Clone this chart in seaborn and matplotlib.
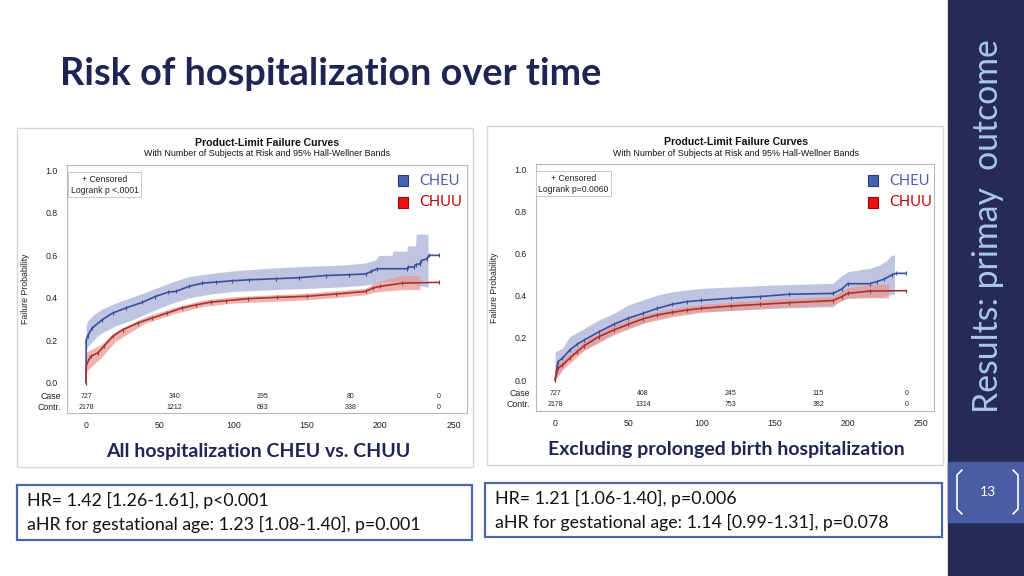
import matplotlib
matplotlib.use("Agg")
import matplotlib.pyplot as plt
from matplotlib.patches import Rectangle
from matplotlib.lines import Line2D
import seaborn as sns
import pandas as pd

# ---- data ----
# left chart: all hospitalization
L_cheu_t = [0, 0, 1, 4, 11, 18, 27, 38, 47, 56, 61, 70, 79, 88, 99, 111, 129, 145, 163, 179, 190, 194, 198, 218, 219, 223, 224, 227, 228, 232, 233, 240]
L_cheu_p = [0, 0.20, 0.22, 0.257, 0.297, 0.328, 0.352, 0.378, 0.406, 0.427, 0.43, 0.454, 0.469, 0.474, 0.48, 0.485, 0.49, 0.495, 0.505, 0.509, 0.512, 0.524, 0.537, 0.537, 0.545, 0.545, 0.556, 0.56, 0.575, 0.585, 0.60, 0.60]
L_cheu_bt = [0, 1, 5, 10, 20, 30, 40, 50, 60, 70, 85, 100, 125, 150, 175, 190, 197, 199, 208, 208.5, 218, 218.5, 224, 224.5, 232.5]
L_cheu_hi = [0.27, 0.29, 0.32, 0.344, 0.375, 0.40, 0.425, 0.452, 0.478, 0.50, 0.515, 0.527, 0.54, 0.548, 0.555, 0.564, 0.58, 0.60, 0.60, 0.62, 0.62, 0.645, 0.645, 0.70, 0.70]
L_cheu_lo = [0.15, 0.17, 0.2, 0.232, 0.268, 0.292, 0.322, 0.352, 0.378, 0.4, 0.418, 0.43, 0.438, 0.444, 0.452, 0.46, 0.468, 0.475, 0.478, 0.478, 0.475, 0.475, 0.47, 0.46, 0.45]

L_chuu_t = [0, 0, 3, 8, 12, 18, 25, 35, 45, 55, 65, 75, 85, 95, 110, 130, 150, 170, 190, 195, 200, 215, 240]
L_chuu_p = [0, 0.08, 0.124, 0.14, 0.171, 0.218, 0.25, 0.281, 0.305, 0.328, 0.352, 0.367, 0.38, 0.386, 0.396, 0.402, 0.407, 0.418, 0.43, 0.446, 0.454, 0.469, 0.473]
L_chuu_bt = [0, 1, 10, 20, 40, 60, 80, 100, 150, 190, 195, 200, 215, 227]
L_chuu_hi = [0.14, 0.148, 0.179, 0.242, 0.31, 0.355, 0.39, 0.405, 0.422, 0.445, 0.465, 0.48, 0.505, 0.505]
L_chuu_lo = [0.04, 0.06, 0.116, 0.195, 0.28, 0.325, 0.36, 0.375, 0.39, 0.414, 0.425, 0.43, 0.438, 0.44]

# right chart: excluding prolonged birth hospitalization
R_cheu_t = [0, 2, 5, 10, 15, 20, 30, 40, 50, 60, 70, 80, 90, 100, 120, 140, 160, 190, 196, 200, 215, 220, 225, 230, 233, 240]
R_cheu_p = [0, 0.087, 0.103, 0.142, 0.169, 0.19, 0.229, 0.264, 0.293, 0.316, 0.34, 0.359, 0.372, 0.378, 0.388, 0.396, 0.407, 0.411, 0.432, 0.457, 0.457, 0.467, 0.479, 0.498, 0.506, 0.506]
R_cheu_bt = [0, 5, 10, 20, 30, 40, 50, 60, 70, 80, 100, 150, 190, 195, 200, 215, 222, 227, 230, 232]
R_cheu_hi = [0.134, 0.15, 0.206, 0.245, 0.285, 0.316, 0.356, 0.38, 0.403, 0.419, 0.435, 0.451, 0.459, 0.49, 0.514, 0.53, 0.546, 0.57, 0.593, 0.593]
R_cheu_lo = [0.0, 0.055, 0.103, 0.142, 0.182, 0.222, 0.245, 0.269, 0.293, 0.309, 0.324, 0.34, 0.348, 0.38, 0.388, 0.395, 0.395, 0.403, 0.405, 0.405]

R_chuu_t = [0, 2, 5, 10, 15, 20, 30, 40, 50, 60, 70, 80, 90, 100, 120, 140, 160, 190, 196, 200, 215, 240]
R_chuu_p = [0, 0.055, 0.071, 0.103, 0.134, 0.163, 0.206, 0.237, 0.264, 0.29, 0.309, 0.321, 0.332, 0.34, 0.351, 0.359, 0.367, 0.377, 0.396, 0.411, 0.422, 0.424]
R_chuu_bt = [0, 5, 10, 20, 40, 60, 80, 100, 150, 190, 200, 215, 228]
R_chuu_hi = [0.071, 0.095, 0.127, 0.185, 0.261, 0.309, 0.34, 0.359, 0.384, 0.396, 0.438, 0.454, 0.454]
R_chuu_lo = [0.0, 0.047, 0.079, 0.142, 0.214, 0.269, 0.30, 0.321, 0.343, 0.356, 0.388, 0.39, 0.39]

risk_times = [0, 60, 120, 180, 240]
L_risk_case = [727, 340, 195, 80, 0]
L_risk_contr = [2178, 1212, 683, 338, 0]
R_risk_case = [727, 408, 245, 115, 0]
R_risk_contr = [2178, 1314, 753, 382, 0]

groups = ["CHEU", "CHUU"]
line_colors = {"CHEU": "#3a4e9c", "CHUU": "#a8322d"}
band_colors = {"CHEU": "#aab2d8", "CHUU": "#e69a94"}

W, H = 1024, 576
NAVY = "#1e2555"
SAS_FONT = ["Liberation Sans", "DejaVu Sans"]
SLIDE_FONT = ["Lato", "DejaVu Sans"]


def fx(x):
    return x / W


def fy(y):
    return 1 - y / H


def km_panel(fig, box, curves, bands, risk_case, risk_contr, logrank, ylim_lo, ylim_hi):
    x0, y0, x1, y1 = box
    ax = fig.add_axes([fx(x0), fy(y1), (x1 - x0) / W, (y1 - y0) / H])
    for g in groups:
        bt, lo, hi = bands[g]
        ax.fill_between(bt, lo, hi, color=band_colors[g], alpha=0.75, lw=0)
    # one call per group so the censor ticks take the line colour
    for g in groups:
        t, p = curves[g]
        df = pd.DataFrame({"time": t, "prob": p})
        sns.lineplot(data=df, x="time", y="prob", color=line_colors[g], estimator=None, ax=ax,
                     lw=1.2, marker="|", markersize=3.5, markeredgewidth=0.8,
                     markeredgecolor=line_colors[g])
    ax.set_xlim(-13, 259)
    ax.set_ylim(ylim_lo, ylim_hi)
    ax.set_xticks([0, 50, 100, 150, 200, 250])
    ax.set_yticks([0, 0.2, 0.4, 0.6, 0.8, 1.0])
    ax.set_yticklabels([f"{v:.1f}" for v in [0, 0.2, 0.4, 0.6, 0.8, 1.0]])
    ax.tick_params(axis="both", labelsize=6.3, colors="#606060", length=3, width=0.6,
                   direction="out", labelcolor="#222222")
    ax.tick_params(axis="x", pad=3)
    for lab in ax.get_xticklabels() + ax.get_yticklabels():
        lab.set_family(SAS_FONT)
    for s in ax.spines.values():
        s.set_color("#b8b8b8")
        s.set_linewidth(0.8)
    ax.set_xlabel("")
    ax.set_ylabel("Failure Probability", fontsize=6.3, family=SAS_FONT, color="#222222", labelpad=11)
    # number at risk table inside the frame
    for t, a, b in zip(risk_times, risk_case, risk_contr):
        ax.text(t, -0.066, str(a), ha="center", va="center", fontsize=5.0, family=SAS_FONT, color="#222222")
        ax.text(t, -0.117, str(b), ha="center", va="center", fontsize=5.0, family=SAS_FONT, color="#222222")
    ax.text(-0.015, -0.066, "Case", transform=ax.get_yaxis_transform(), ha="right", va="center",
            fontsize=6.3, family=SAS_FONT, color="#222222")
    ax.text(-0.015, -0.117, "Contr.", transform=ax.get_yaxis_transform(), ha="right", va="center",
            fontsize=6.3, family=SAS_FONT, color="#222222")
    ax.text(0.094, 0.92, "+ Censored\n" + logrank, transform=ax.transAxes, ha="center", va="center",
            multialignment="center", fontsize=6.2, family=SAS_FONT, color="#222222", linespacing=1.3,
            bbox=dict(boxstyle="square,pad=0.3", fc="white", ec="#c8c8c8", lw=0.7))
    return ax


sns.set_theme(style="white")
plt.rcParams["font.family"] = SLIDE_FONT

fig = plt.figure(figsize=(W / 100, H / 100), dpi=100)
fig.patch.set_facecolor("white")

# slide title
fig.text(fx(60), fy(74), "Risk of hospitalization over time", fontsize=27.3, fontweight="bold",
         color=NAVY, ha="left", va="center", family=SLIDE_FONT)

# right sidebar
fig.patches.append(Rectangle((fx(948), 0), 76 / W, 1, transform=fig.transFigure,
                             color="#262b55", zorder=0))
fig.patches.append(Rectangle((fx(948), fy(522)), 76 / W, 60 / H, transform=fig.transFigure,
                             color="#4a5da4", zorder=1))
fig.text(fx(988), fy(226), "Results: primay  outcome", rotation=90, fontsize=24.3,
         color="#a9c6ec", ha="center", va="center", family=SLIDE_FONT)
fig.text(fx(988), fy(492), "13", fontsize=10, color="white", ha="center", va="center",
         family=SLIDE_FONT)
for xs in ([962, 957, 957, 962], [1013, 1018, 1018, 1013]):
    fig.lines.append(Line2D([fx(v) for v in xs], [fy(470), fy(475), fy(509), fy(514)],
                            transform=fig.transFigure, color="white", lw=1.2))

# panel borders (the pasted SAS images)
for (a, b, c, d) in [(17, 128, 473, 467), (487, 126, 943, 465)]:
    fig.patches.append(Rectangle((fx(a), fy(d)), (c - a) / W, (d - b) / H, transform=fig.transFigure,
                                 fill=False, ec="#d6d6d6", lw=1.0))

# left KM chart
km_panel(fig, (67, 165, 467, 413),
         {"CHEU": (L_cheu_t, L_cheu_p), "CHUU": (L_chuu_t, L_chuu_p)},
         {"CHEU": (L_cheu_bt, L_cheu_lo, L_cheu_hi), "CHUU": (L_chuu_bt, L_chuu_lo, L_chuu_hi)},
         L_risk_case, L_risk_contr, "Logrank p <.0001", -0.143, 1.026)
# right KM chart
km_panel(fig, (536, 164, 934, 411),
         {"CHEU": (R_cheu_t, R_cheu_p), "CHUU": (R_chuu_t, R_chuu_p)},
         {"CHEU": (R_cheu_bt, R_cheu_lo, R_cheu_hi), "CHUU": (R_chuu_bt, R_chuu_lo, R_chuu_hi)},
         R_risk_case, R_risk_contr, "Logrank p=0.0060", -0.147, 1.025)

# SAS titles
for cx, ty in [(267, 143), (736, 142)]:
    fig.text(fx(cx), fy(ty), "Product-Limit Failure Curves", fontsize=7.6, fontweight="bold",
             ha="center", va="center", family=SAS_FONT, color="#111111")
    fig.text(fx(cx), fy(ty + 11), "With Number of Subjects at Risk and 95% Hall-Wellner Bands",
             fontsize=6.4, ha="center", va="center", family=SAS_FONT, color="#111111")

# CHEU / CHUU overlay legends
for sx in (398, 868):
    fig.patches.append(Rectangle((fx(sx), fy(186)), 10 / W, 11 / H, transform=fig.transFigure,
                                 fc="#4664b4", ec="#2a3c78", lw=0.8, zorder=5))
    fig.patches.append(Rectangle((fx(sx), fy(208)), 10 / W, 11 / H, transform=fig.transFigure,
                                 fc="#ee1111", ec="#a00000", lw=0.8, zorder=5))
    fig.text(fx(sx + 21), fy(181), "CHEU", fontsize=10.5, color="#4a5fa8", ha="left", va="center",
             family=SLIDE_FONT)
    fig.text(fx(sx + 21), fy(202), "CHUU", fontsize=10.5, color="#c00000", ha="left", va="center",
             family=SLIDE_FONT)

# chart captions
fig.text(fx(258), fy(451), "All hospitalization CHEU vs. CHUU", fontsize=14, fontweight="bold",
         color=NAVY, ha="center", va="center", family=SLIDE_FONT)
fig.text(fx(726), fy(449), "Excluding prolonged birth hospitalization", fontsize=14, fontweight="bold",
         color=NAVY, ha="center", va="center", family=SLIDE_FONT)

# hazard ratio boxes
hr_boxes = [
    ((17, 485, 472, 540), ["HR= 1.42 [1.26-1.61], p<0.001",
                           "aHR for gestational age: 1.23 [1.08-1.40], p=0.001"]),
    ((485, 483, 942, 537), ["HR= 1.21 [1.06-1.40], p=0.006",
                            "aHR for gestational age: 1.14 [0.99-1.31], p=0.078"]),
]
for (a, b, c, d), lines in hr_boxes:
    fig.patches.append(Rectangle((fx(a), fy(d)), (c - a) / W, (d - b) / H, transform=fig.transFigure,
                                 fill=False, ec="#4a67a8", lw=1.6))
    fig.text(fx(a + 10), fy(b + 15), lines[0], fontsize=12.8, color="#111111", ha="left", va="center",
             family=SLIDE_FONT)
    fig.text(fx(a + 10), fy(b + 39), lines[1], fontsize=12.8, color="#111111", ha="left", va="center",
             family=SLIDE_FONT)

fig.savefig("out.png", dpi=100)
